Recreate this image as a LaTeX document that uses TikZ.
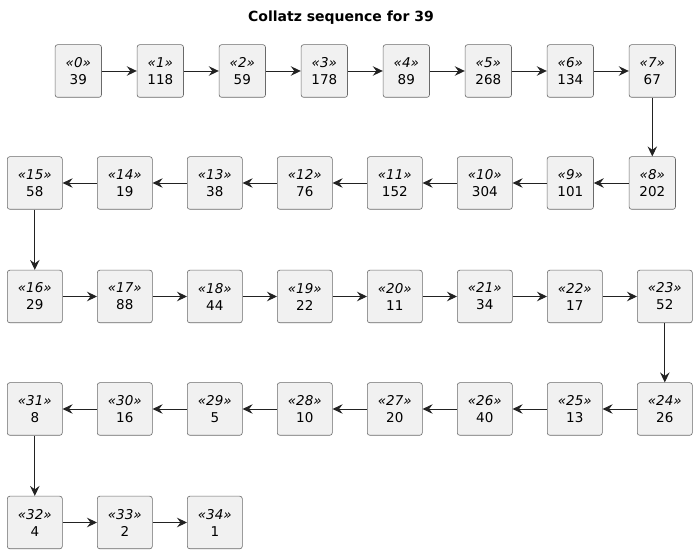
\documentclass[tikz,border=0pt]{standalone}
\usepackage{fontspec}
\setmainfont{DejaVu Sans}
\usetikzlibrary{arrows.meta}
\definecolor{boxfill}{HTML}{F1F1F1}
\definecolor{boxline}{HTML}{6A6A6A}
\definecolor{arrline}{HTML}{222222}
\begin{document}
\begin{tikzpicture}[x=1pt,y=-1pt,
  box/.style={draw=boxline,fill=boxfill,rounded corners=2.5pt,line width=0.6pt,
    minimum height=52.6pt,inner sep=0pt,align=center,
    font=\fontsize{13.5}{17}\selectfont},
  sw/.style={minimum width=46.4pt},
  dw/.style={minimum width=55pt},
  arr/.style={draw=arrline,line width=0.9pt,-{Stealth[length=10pt,width=9.5pt,inset=3.5pt]}}]
\useasboundingbox (0,0) rectangle (697,553);
\node[font=\fontsize{14}{17}\selectfont\bfseries] (title) at (341,17.5) {Collatz sequence for 39};
% row 1
\node[box,sw] (n0) at (78.3,71) {\textit{«0»}\\39};
\node[box,sw] (n1) at (160.3,71) {\textit{«1»}\\118};
\node[box,sw] (n2) at (242.3,71) {\textit{«2»}\\59};
\node[box,sw] (n3) at (324.3,71) {\textit{«3»}\\178};
\node[box,sw] (n4) at (406.3,71) {\textit{«4»}\\89};
\node[box,sw] (n5) at (488.3,71) {\textit{«5»}\\268};
\node[box,sw] (n6) at (570.3,71) {\textit{«6»}\\134};
\node[box,sw] (n7) at (652.3,71) {\textit{«7»}\\67};
% row 2
\node[box,sw] (n8) at (652.3,183) {\textit{«8»}\\202};
\node[box,sw] (n9) at (570.3,183) {\textit{«9»}\\101};
\node[box,dw] (n10) at (484.8,183) {\textit{«10»}\\304};
\node[box,dw] (n11) at (394.8,183) {\textit{«11»}\\152};
\node[box,dw] (n12) at (304.8,183) {\textit{«12»}\\76};
\node[box,dw] (n13) at (214.8,183) {\textit{«13»}\\38};
\node[box,dw] (n14) at (124.8,183) {\textit{«14»}\\19};
\node[box,dw] (n15) at (34.8,183) {\textit{«15»}\\58};
% row 3
\node[box,dw] (n16) at (34.8,296.5) {\textit{«16»}\\29};
\node[box,dw] (n17) at (124.8,296.5) {\textit{«17»}\\88};
\node[box,dw] (n18) at (214.8,296.5) {\textit{«18»}\\44};
\node[box,dw] (n19) at (304.8,296.5) {\textit{«19»}\\22};
\node[box,dw] (n20) at (394.8,296.5) {\textit{«20»}\\11};
\node[box,dw] (n21) at (484.8,296.5) {\textit{«21»}\\34};
\node[box,dw] (n22) at (574.8,296.5) {\textit{«22»}\\17};
\node[box,dw] (n23) at (664.8,296.5) {\textit{«23»}\\52};
% row 4
\node[box,dw] (n24) at (664.8,409) {\textit{«24»}\\26};
\node[box,dw] (n25) at (574.8,409) {\textit{«25»}\\13};
\node[box,dw] (n26) at (484.8,409) {\textit{«26»}\\40};
\node[box,dw] (n27) at (394.8,409) {\textit{«27»}\\20};
\node[box,dw] (n28) at (304.8,409) {\textit{«28»}\\10};
\node[box,dw] (n29) at (214.8,409) {\textit{«29»}\\5};
\node[box,dw] (n30) at (124.8,409) {\textit{«30»}\\16};
\node[box,dw] (n31) at (34.8,409) {\textit{«31»}\\8};
% row 5
\node[box,dw] (n32) at (34.8,522.5) {\textit{«32»}\\4};
\node[box,dw] (n33) at (124.8,522.5) {\textit{«33»}\\2};
\node[box,dw] (n34) at (214.8,522.5) {\textit{«34»}\\1};
% connectors
\foreach \a/\b in {0/1,1/2,2/3,3/4,4/5,5/6,6/7,7/8,8/9,9/10,10/11,11/12,12/13,13/14,14/15,15/16,
  16/17,17/18,18/19,19/20,20/21,21/22,22/23,23/24,24/25,25/26,26/27,27/28,28/29,29/30,30/31,31/32,32/33,33/34}
  \draw[arr] (n\a) -- (n\b);
\end{tikzpicture}
\end{document}
